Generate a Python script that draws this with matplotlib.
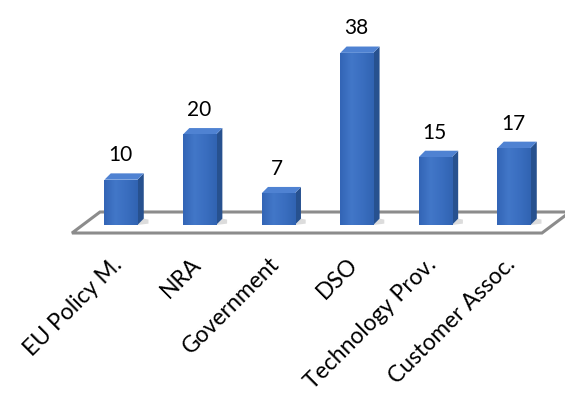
import matplotlib
matplotlib.use("Agg")
import matplotlib.pyplot as plt
import numpy as np
from matplotlib.patches import Polygon
from matplotlib.colors import LinearSegmentedColormap

plt.rcParams['font.family'] = ['Lato', 'DejaVu Sans']

categories = ['EU Policy M.', 'NRA', 'Government', 'DSO', 'Technology Prov.', 'Customer Assoc.']
values = [10, 20, 7, 38, 15, 17]

fig = plt.figure(figsize=(5.65, 3.96), dpi=100)
ax = fig.add_axes([0, 0, 1, 1])
ax.set_xlim(-1.539, 5.649)
ax.set_ylim(-37.75, 49.67)
ax.axis('off')

# floor of the 3d plot
floor = Polygon([(-0.623, -1.77), (5.356, -1.77), (5.712, 2.87), (-0.267, 2.87)],
                closed=True, facecolor='white', edgecolor='#8c8c8c', lw=2.2, zorder=1)
ax.add_patch(floor)

w = 0.42      # front face width
dx = 0.08     # depth offset in x
dy = 1.4      # depth offset in y

front_cmap = LinearSegmentedColormap.from_list('f', ['#3365b6', '#4277c8', '#3a6ec0', '#3163b2'])

for i, v in enumerate(values):
    x0 = i - w / 2
    x1 = i + w / 2
    # shadow on floor
    ax.add_patch(Polygon([(x1, 0), (x1 + 0.14, 0.3), (x1 + 0.14, 1.2), (x1 + dx, dy)],
                         closed=True, facecolor='#dcdcdc', edgecolor='none', zorder=2))
    # side face
    ax.add_patch(Polygon([(x1, 0), (x1 + dx, dy), (x1 + dx, v + dy), (x1, v)],
                         closed=True, facecolor='#27518f', edgecolor='none', zorder=3))
    # top face
    ax.add_patch(Polygon([(x0, v), (x1, v), (x1 + dx, v + dy), (x0 + dx, v + dy)],
                         closed=True, facecolor='#4f82d2', edgecolor='none', zorder=3))
    # front face with gradient
    bars = ax.bar(i, v, width=w, color='#3a6fc2', zorder=4)
    grad = np.linspace(0, 1, 64).reshape(1, -1)
    im = ax.imshow(grad, cmap=front_cmap, extent=(x0, x1, 0, v), aspect='auto', zorder=5)
    im.set_clip_path(bars[0])
    ax.text(i - 0.01, v + dy + 4.0, str(v), ha='center', va='center', fontsize=15, color='black', zorder=6)
    ax.text(i - 0.12, -6.3, categories[i], rotation=45, rotation_mode='anchor',
            ha='right', va='top', fontsize=16.5, color='black', zorder=6)

ax.set_xlim(-1.539, 5.649)
ax.set_ylim(-37.75, 49.67)

fig.savefig('out.png', dpi=100)
